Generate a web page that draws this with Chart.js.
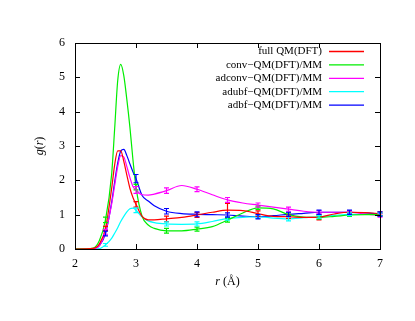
<!DOCTYPE html>
<html>
<head>
    <title>g(r)</title>
    <script src="https://cdn.jsdelivr.net/npm/chart.js"></script>
    <style>
        body { margin: 0; background: #ffffff; }
    </style>
</head>
<body>
    <canvas id="rdfChart" width="415" height="321"></canvas>

    <script>
        // r grid shared by all curves
        const rValues = [2.0, 2.3, 2.4, 2.5, 2.6, 2.65, 2.7, 2.75, 2.8, 2.85, 2.9, 2.95, 3.0, 3.1, 3.2, 3.3,
                         3.5, 3.75, 4.0, 4.25, 4.5, 4.75, 5.0, 5.25, 5.5, 5.75, 6.0, 6.25, 6.5, 6.75, 7.0];

        const fullQM = [0, 0.02, 0.15, 0.6, 1.75, 2.45, 2.86, 2.86, 2.55, 2.15, 1.77, 1.5, 1.3, 0.95, 0.85, 0.85,
                        0.88, 0.92, 0.99, 1.07, 1.13, 1.12, 1.03, 0.95, 0.94, 0.92, 0.93, 1.02, 1.07, 1.06, 1.03];
        const convQM = [0, 0.03, 0.25, 0.85, 2.16, 3.5, 4.9, 5.38, 5.05, 4.35, 3.55, 2.6, 1.8, 0.95, 0.7, 0.6,
                        0.53, 0.53, 0.58, 0.65, 0.84, 1.05, 1.2, 1.17, 1.0, 0.93, 0.92, 0.95, 0.99, 1.0, 1.0];
        const adconvQM = [0, 0.01, 0.1, 0.5, 1.3, 1.85, 2.4, 2.72, 2.68, 2.4, 2.08, 1.82, 1.72, 1.58, 1.57, 1.6,
                          1.7, 1.85, 1.74, 1.58, 1.43, 1.34, 1.28, 1.22, 1.16, 1.1, 1.07, 1.07, 1.07, 1.02, 0.98];
        const adubfQM = [0, 0, 0.01, 0.12, 0.31, 0.46, 0.62, 0.8, 0.95, 1.08, 1.17, 1.19, 1.13, 0.93, 0.82, 0.77,
                         0.73, 0.72, 0.73, 0.8, 0.89, 0.92, 0.94, 0.9, 0.88, 0.91, 0.94, 0.98, 1.01, 1.01, 1.01];
        const adbfQM = [0, 0.01, 0.1, 0.45, 1.35, 1.95, 2.5, 2.85, 2.9, 2.72, 2.48, 2.25, 2.05, 1.56, 1.4, 1.26,
                        1.1, 1.03, 1.01, 1.0, 0.99, 0.96, 0.94, 0.97, 1.01, 1.04, 1.07, 1.07, 1.07, 1.05, 1.02];

        // error bars (half widths) at these r values
        const errR = [2.5, 3.0, 3.5, 4.0, 4.5, 5.0, 5.5, 6.0, 6.5, 7.0];
        const fullQMErr = [0.06, 0.08, 0.08, 0.07, 0.2, 0.08, 0.05, 0.08, 0.05, 0.05];
        const convQMErr = [0.08, 0.08, 0.07, 0.06, 0.06, 0.05, 0.05, 0.05, 0.04, 0.04];
        const adconvQMErr = [0.07, 0.1, 0.08, 0.07, 0.07, 0.06, 0.06, 0.05, 0.05, 0.05];
        const adubfQMErr = [0.04, 0.07, 0.06, 0.06, 0.05, 0.05, 0.06, 0.04, 0.04, 0.04];
        const adbfQMErr = [0.07, 0.12, 0.08, 0.07, 0.06, 0.06, 0.06, 0.06, 0.06, 0.06];

        const seriesNames = ['full QM(DFT)', 'conv\u2212QM(DFT)/MM', 'adconv\u2212QM(DFT)/MM', 'adubf\u2212QM(DFT)/MM', 'adbf\u2212QM(DFT)/MM'];
        const seriesColors = ['#ff0000', '#00ee00', '#ff00ff', '#00ffff', '#0000ff'];
        const seriesValues = [fullQM, convQM, adconvQM, adubfQM, adbfQM];
        const seriesErrors = [fullQMErr, convQMErr, adconvQMErr, adubfQMErr, adbfQMErr];

        const xTicks = [2, 3, 4, 5, 6, 7];
        const yTicks = [0, 1, 2, 3, 4, 5, 6];

        const serif = '"Liberation Serif", "Times New Roman", serif';

        const datasets = seriesValues.map((vals, i) => ({
            label: seriesNames[i],
            data: rValues.map((r, k) => ({ x: r, y: vals[k] })),
            borderColor: seriesColors[i],
            borderWidth: 1.2,
            pointRadius: 0,
            showLine: true,
            fill: false,
            cubicInterpolationMode: 'monotone',
        }));

        const framePlugin = {
            id: 'frame',
            afterDatasetsDraw(chart) {
                const ctx = chart.ctx;
                const xs = chart.scales.x;
                const ys = chart.scales.y;
                const a = chart.chartArea;

                // error bars
                ctx.save();
                ctx.lineWidth = 1.2;
                seriesValues.forEach((vals, i) => {
                    ctx.strokeStyle = seriesColors[i];
                    errR.forEach((r, k) => {
                        const idx = rValues.indexOf(r);
                        const y = vals[idx];
                        const e = seriesErrors[i][k];
                        const px = xs.getPixelForValue(r);
                        const top = ys.getPixelForValue(y + e);
                        const bot = ys.getPixelForValue(y - e);
                        ctx.beginPath();
                        ctx.moveTo(px, top); ctx.lineTo(px, bot);
                        ctx.moveTo(px - 2.5, top); ctx.lineTo(px + 2.5, top);
                        ctx.moveTo(px - 2.5, bot); ctx.lineTo(px + 2.5, bot);
                        ctx.stroke();
                    });
                });

                // border and inward ticks
                ctx.strokeStyle = '#000000';
                ctx.lineWidth = 1;
                ctx.strokeRect(a.left + 0.5, a.top + 0.5, a.right - a.left, a.bottom - a.top);
                ctx.beginPath();
                xTicks.forEach(t => {
                    const px = Math.round(xs.getPixelForValue(t)) + 0.5;
                    ctx.moveTo(px, a.bottom); ctx.lineTo(px, a.bottom - 5);
                    ctx.moveTo(px, a.top); ctx.lineTo(px, a.top + 5);
                });
                yTicks.forEach(t => {
                    const py = Math.round(ys.getPixelForValue(t)) + 0.5;
                    ctx.moveTo(a.left, py); ctx.lineTo(a.left + 5, py);
                    ctx.moveTo(a.right, py); ctx.lineTo(a.right - 5, py);
                });
                ctx.stroke();

                // legend
                ctx.font = '11px ' + serif;
                ctx.fillStyle = '#000000';
                ctx.textAlign = 'right';
                ctx.textBaseline = 'middle';
                seriesNames.forEach((name, i) => {
                    const y = 51.5 + i * 13.4;
                    ctx.fillText(name, 322, y);
                    ctx.strokeStyle = seriesColors[i];
                    ctx.lineWidth = 1.3;
                    ctx.beginPath();
                    ctx.moveTo(329, y);
                    ctx.lineTo(364, y);
                    ctx.stroke();
                });

                // axis titles
                ctx.fillStyle = '#000000';
                ctx.textBaseline = 'middle';
                ctx.textAlign = 'left';
                const cx = (a.left + a.right) / 2;
                ctx.font = 'italic 12px ' + serif;
                const rW = ctx.measureText('r').width;
                ctx.font = '12px ' + serif;
                const restW = ctx.measureText(' (\u00C5)').width;
                let x0 = cx - (rW + restW) / 2;
                ctx.font = 'italic 12px ' + serif;
                ctx.fillText('r', x0, 282);
                ctx.font = '12px ' + serif;
                ctx.fillText(' (\u00C5)', x0 + rW, 282);

                ctx.translate(40, (a.top + a.bottom) / 2);
                ctx.rotate(-Math.PI / 2);
                const parts = [['g', true], ['(', false], ['r', true], [')', false]];
                let total = 0;
                parts.forEach(p => {
                    ctx.font = (p[1] ? 'italic ' : '') + '12px ' + serif;
                    total += ctx.measureText(p[0]).width;
                });
                let px = -total / 2;
                parts.forEach(p => {
                    ctx.font = (p[1] ? 'italic ' : '') + '12px ' + serif;
                    ctx.fillText(p[0], px, 0);
                    px += ctx.measureText(p[0]).width;
                });
                ctx.restore();
            }
        };

        new Chart(document.getElementById('rdfChart').getContext('2d'), {
            type: 'scatter',
            data: { datasets: datasets },
            options: {
                responsive: false,
                devicePixelRatio: 1,
                animation: false,
                layout: { padding: { left: 0, right: 35, top: 43, bottom: 0 } },
                plugins: {
                    legend: { display: false },
                    tooltip: { enabled: false },
                },
                scales: {
                    x: {
                        type: 'linear',
                        min: 2,
                        max: 7,
                        afterFit: (s) => { s.height = 72; },
                        afterBuildTicks: (s) => { s.ticks = xTicks.map(v => ({ value: v })); },
                        grid: { display: false },
                        border: { display: false },
                        ticks: { color: '#000000', padding: 0, font: { family: serif, size: 12 } },
                    },
                    y: {
                        min: 0,
                        max: 6,
                        afterFit: (s) => { s.width = 75; },
                        afterBuildTicks: (s) => { s.ticks = yTicks.map(v => ({ value: v })); },
                        grid: { display: false },
                        border: { display: false },
                        ticks: { color: '#000000', padding: 2, font: { family: serif, size: 12 } },
                    },
                },
            },
            plugins: [framePlugin],
        });
    </script>
</body>
</html>
